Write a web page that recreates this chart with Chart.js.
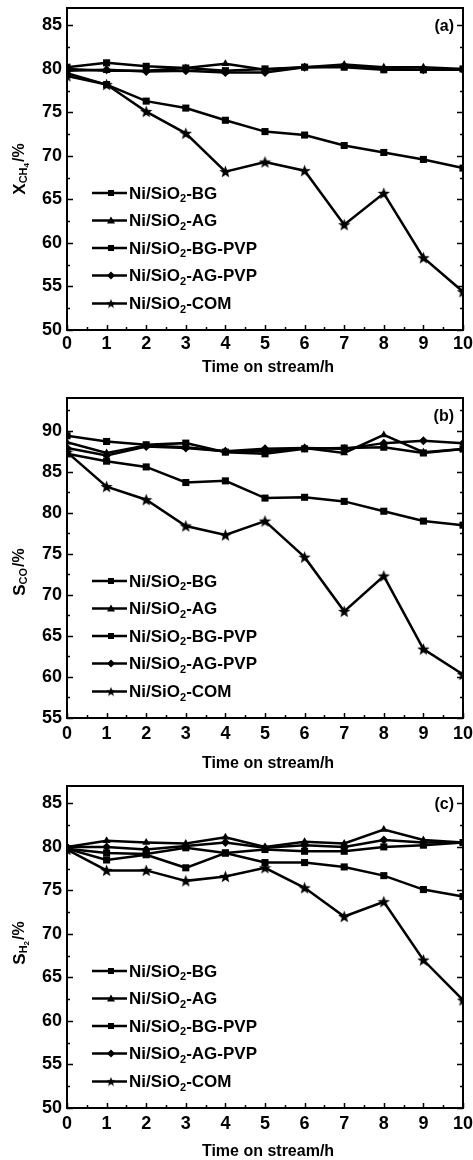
<!DOCTYPE html>
<html>
<head>
<meta charset="utf-8">
<script src="https://cdn.jsdelivr.net/npm/chart.js@4.4.1/dist/chart.umd.min.js"></script>
<style>
  html, body { margin: 0; padding: 0; background: #fff; }
  #wrap { position: relative; width: 473px; height: 1160px; }
  #wrap canvas { position: absolute; left: 0; top: 0; }
</style>
</head>
<body>
<div id="wrap">
  <canvas id="panelA" width="473" height="1160"></canvas>
  <canvas id="panelB" width="473" height="1160"></canvas>
  <canvas id="panelC" width="473" height="1160"></canvas>
</div>
<script>
// time on stream (h)
const hours = [0, 1, 2, 3, 4, 5, 6, 7, 8, 9, 10];
const sampleNames = ["BG", "AG", "BG-PVP", "AG-PVP", "COM"];

// y tick labels per panel
const convTicks = [50, 55, 60, 65, 70, 75, 80, 85];
const coTicks = [55, 60, 65, 70, 75, 80, 85, 90];
const h2Ticks = [50, 55, 60, 65, 70, 75, 80, 85];

// (a) CH4 conversion, %
const convBG = [79.5, 78.2, 76.3, 75.5, 74.1, 72.8, 72.4, 71.2, 70.4, 69.6, 68.6];
const convAG = [80.0, 79.8, 79.8, 80.1, 80.6, 79.9, 80.2, 80.5, 80.2, 80.2, 80.0];
const convBGPVP = [80.2, 80.7, 80.3, 80.1, 79.8, 80.0, 80.2, 80.2, 79.9, 79.9, 80.0];
const convAGPVP = [79.8, 79.9, 79.7, 79.8, 79.6, 79.6, 80.2, 80.3, 80.0, 79.9, 79.9];
const convCOM = [79.2, 78.2, 75.1, 72.6, 68.2, 69.3, 68.3, 62.1, 65.7, 58.3, 54.4];

// (b) CO selectivity, %
const coBG = [87.2, 86.3, 85.6, 83.7, 83.9, 81.8, 81.9, 81.4, 80.2, 79.0, 78.5];
const coAG = [88.6, 87.3, 88.2, 88.0, 87.5, 87.5, 87.9, 87.3, 89.5, 87.4, 87.8];
const coBGPVP = [89.4, 88.7, 88.3, 88.5, 87.4, 87.2, 87.8, 87.9, 88.0, 87.3, 87.8];
const coAGPVP = [87.9, 87.0, 88.1, 87.9, 87.5, 87.8, 87.9, 87.8, 88.5, 88.8, 88.5];
const coCOM = [87.4, 83.2, 81.6, 78.4, 77.3, 79.0, 74.6, 68.0, 72.3, 63.4, 60.3];

// (c) H2 selectivity, %
const h2BG = [79.8, 78.5, 79.1, 77.6, 79.3, 78.2, 78.2, 77.7, 76.7, 75.1, 74.3];
const h2AG = [80.0, 80.7, 80.5, 80.4, 81.1, 80.0, 80.6, 80.4, 82.0, 80.8, 80.5];
const h2BGPVP = [79.8, 79.3, 79.2, 79.9, 79.3, 79.7, 79.5, 79.5, 80.0, 80.2, 80.5];
const h2AGPVP = [80.0, 80.0, 79.7, 80.1, 80.5, 79.9, 80.2, 80.0, 80.8, 80.5, 80.5];
const h2COM = [79.7, 77.3, 77.3, 76.1, 76.6, 77.6, 75.3, 72.0, 73.7, 67.0, 62.4];

const FONT = 'Arial, "Liberation Sans", Helvetica, sans-serif';
const INK = "#000";

// filled five-point star used as marker for the COM sample
function makeStar(size) {
  const c = document.createElement("canvas");
  c.width = size;
  c.height = size;
  const g = c.getContext("2d");
  const cx = size / 2, cy = size / 2 + 0.5, ro = size / 2, ri = ro * 0.42;
  g.beginPath();
  for (let i = 0; i < 10; i++) {
    const r = i % 2 === 0 ? ro : ri;
    const a = -Math.PI / 2 + (i * Math.PI) / 5;
    g.lineTo(cx + r * Math.cos(a), cy + r * Math.sin(a));
  }
  g.closePath();
  g.fillStyle = INK;
  g.fill();
  return c;
}
const starImg = makeStar(13);
const starSmall = makeStar(10);
const markerStyles = ["rect", "triangle", "rect", "rectRot", starImg];
const legendMarkers = ["rect", "triangle", "rect", "rectRot", starSmall];

function drawMarker(ctx, style, x, y, r) {
  ctx.fillStyle = INK;
  if (style instanceof HTMLCanvasElement) {
    ctx.drawImage(style, x - style.width / 2, y - style.height / 2);
    return;
  }
  ctx.beginPath();
  if (style === "rect") {
    ctx.rect(x - r, y - r, 2 * r, 2 * r);
  } else if (style === "triangle") {
    ctx.moveTo(x, y - r - 1);
    ctx.lineTo(x + r + 1, y + r);
    ctx.lineTo(x - r - 1, y + r);
    ctx.closePath();
  } else if (style === "rectRot") {
    ctx.moveTo(x, y - r - 1);
    ctx.lineTo(x + r + 1, y);
    ctx.lineTo(x, y + r + 1);
    ctx.lineTo(x - r - 1, y);
    ctx.closePath();
  }
  ctx.fill();
}

// draws text made of pieces with their own size and baseline shift
function drawRich(ctx, parts, x, y) {
  let cx = x;
  parts.forEach((p) => {
    ctx.font = "bold " + p.size + "px " + FONT;
    ctx.fillText(p.t, cx, y + (p.dy || 0));
    cx += ctx.measureText(p.t).width + (p.gap || 0);
  });
  return cx - x;
}
function richWidth(ctx, parts) {
  let w = 0;
  parts.forEach((p) => {
    ctx.font = "bold " + p.size + "px " + FONT;
    w += ctx.measureText(p.t).width + (p.gap || 0);
  });
  return w;
}

// frame, inward ticks, axis titles, legend and panel tag
const decor = {
  id: "decor",
  afterDraw(chart, args, opts) {
    const ctx = chart.ctx;
    const { left, right, top, bottom } = chart.chartArea;
    const xs = chart.scales.x, ys = chart.scales.y;
    ctx.save();
    ctx.strokeStyle = INK;
    ctx.fillStyle = INK;

    ctx.lineWidth = 2;
    ctx.strokeRect(left, top, right - left, bottom - top);

    ctx.lineWidth = 1.5;
    ctx.beginPath();
    // x ticks (major every 1 h, minor every 0.5 h)
    for (let v = 0; v <= 10.001; v += 0.5) {
      const px = Math.round(xs.getPixelForValue(v)) + 0.5;
      const len = Number.isInteger(v) ? 5 : 3;
      ctx.moveTo(px, bottom);
      ctx.lineTo(px, bottom - len);
    }
    // y ticks, left and right, major + minor halfway
    const major = opts.ticks;
    const step = major[1] - major[0];
    const all = [];
    major.forEach((v) => { all.push([v, 6]); all.push([v + step / 2, 3]); });
    all.forEach(([v, len]) => {
      if (v < ys.min || v > ys.max) return;
      const py = Math.round(ys.getPixelForValue(v)) + 0.5;
      ctx.moveTo(left, py);
      ctx.lineTo(left + len, py);
      ctx.moveTo(right, py);
      ctx.lineTo(right - len, py);
    });
    ctx.stroke();

    // x axis title
    ctx.textBaseline = "middle";
    ctx.textAlign = "center";
    ctx.font = "bold 16px " + FONT;
    ctx.fillText("Time on stream/h", (left + right) / 2 + 3, bottom + opts.xTitleGap);

    // y axis title (rotated, with subscripts)
    ctx.save();
    ctx.translate(20, (top + bottom) / 2 + opts.yTitleShift);
    ctx.rotate(-Math.PI / 2);
    ctx.textAlign = "left";
    const w = richWidth(ctx, opts.yTitle);
    drawRich(ctx, opts.yTitle, -w / 2, 0);
    ctx.restore();

    // panel tag
    ctx.textAlign = "right";
    ctx.font = "bold 16px " + FONT;
    ctx.fillText(opts.tag, right - 9, top + 19);

    // legend
    ctx.textAlign = "left";
    const offs = [137, 109.5, 82, 54.5, 26.5];
    sampleNames.forEach((name, i) => {
      const y = bottom - offs[i];
      ctx.lineWidth = 2.5;
      ctx.beginPath();
      ctx.moveTo(92, y);
      ctx.lineTo(127, y);
      ctx.stroke();
      drawMarker(ctx, legendMarkers[i], 111, y, 3);
      drawRich(ctx, [
        { t: "Ni/SiO", size: 17 },
        { t: "2", size: 11, dy: 5 },
        { t: "-" + name, size: 17 },
      ], 129, y + 1);
    });
    ctx.restore();
  },
};

function makePanel(id, series, yMin, yMax, yTicks, plotTop, plotBottom, extra) {
  const datasets = series.map((vals, i) => ({
    label: "Ni/SiO2-" + sampleNames[i],
    data: hours.map((h, k) => ({ x: h, y: vals[k] })),
    borderColor: INK,
    backgroundColor: INK,
    borderWidth: 2.5,
    pointStyle: markerStyles[i],
    pointRadius: markerStyles[i] === "rect" ? 5 : 4.5,
    pointBackgroundColor: INK,
    pointBorderColor: INK,
    pointBorderWidth: 0,
    tension: 0,
  }));

  const zeroPad = (s) => { s.paddingTop = 0; s.paddingBottom = 0; s.paddingLeft = 0; s.paddingRight = 0; };

  return new Chart(document.getElementById(id), {
    type: "line",
    data: { datasets },
    plugins: [decor],
    options: {
      responsive: false,
      animation: false,
      events: [],
      layout: { padding: { top: plotTop, right: 10, left: 0, bottom: 1160 - plotBottom - 30 } },
      plugins: {
        legend: { display: false },
        tooltip: { enabled: false },
        decor: extra,
      },
      scales: {
        x: {
          type: "linear",
          min: 0,
          max: 10,
          afterBuildTicks: (s) => { s.ticks = hours.map((v) => ({ value: v })); },
          afterFit: (s) => { s.height = 30; zeroPad(s); },
          grid: { display: false, drawTicks: false },
          border: { display: false },
          ticks: {
            autoSkip: false,
            maxRotation: 0,
            padding: extra.xTickPad,
            color: INK,
            font: { family: FONT, size: 18, weight: "bold" },
          },
        },
        y: {
          min: yMin,
          max: yMax,
          afterBuildTicks: (s) => { s.ticks = yTicks.map((v) => ({ value: v })); },
          afterFit: (s) => { s.width = 67; zeroPad(s); },
          grid: { display: false, drawTicks: false },
          border: { display: false },
          ticks: {
            padding: 5,
            color: INK,
            font: { family: FONT, size: 18, weight: "bold" },
          },
        },
      },
    },
  });
}

makePanel("panelA", [convBG, convAG, convBGPVP, convAGPVP, convCOM], 50, 87, convTicks, 8, 330, {
  ticks: convTicks,
  tag: "(a)",
  xTickPad: 3,
  xTitleGap: 38,
  yTitleShift: 0,
  yTitle: [
    { t: "X", size: 17 },
    { t: "CH", size: 11, dy: 4 },
    { t: "4", size: 8, dy: 7, gap: 1 },
    { t: "/%", size: 16 },
  ],
});

makePanel("panelB", [coBG, coAG, coBGPVP, coAGPVP, coCOM], 55, 94, coTicks, 398, 718, {
  ticks: coTicks,
  tag: "(b)",
  xTickPad: 5,
  xTitleGap: 46,
  yTitleShift: 14,
  yTitle: [
    { t: "S", size: 17 },
    { t: "CO", size: 11, dy: 4, gap: 1 },
    { t: "/%", size: 16 },
  ],
});

makePanel("panelC", [h2BG, h2AG, h2BGPVP, h2AGPVP, h2COM], 50, 87, h2Ticks, 786, 1108, {
  ticks: h2Ticks,
  tag: "(c)",
  xTickPad: 5,
  xTitleGap: 44,
  yTitleShift: -4,
  yTitle: [
    { t: "S", size: 17 },
    { t: "H", size: 11, dy: 4 },
    { t: "2", size: 8, dy: 7, gap: 1 },
    { t: "/%", size: 16 },
  ],
});
</script>
</body>
</html>
